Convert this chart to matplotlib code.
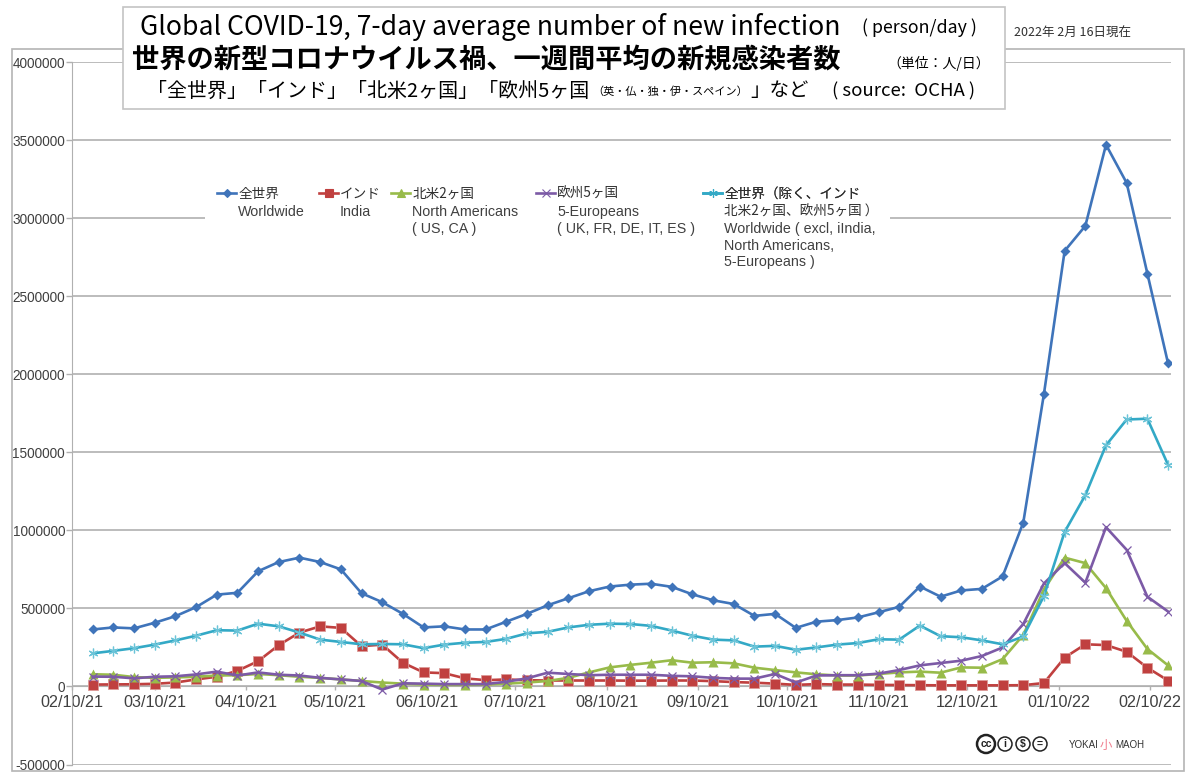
# plot.py
import datetime as dt

import matplotlib
matplotlib.use('Agg')
import matplotlib.dates as mdates
import matplotlib.pyplot as plt
from matplotlib.lines import Line2D
from matplotlib.patches import Circle, Rectangle

JP_FONT = ['Noto Sans CJK JP', 'DejaVu Sans']
LATIN_FONT = 'Liberation Sans'

# weekly values, 1000 person/day
start_date = dt.date(2021, 2, 17)
worldwide = [365, 378, 372, 408, 450, 508, 588, 600, 738, 797, 825, 797, 750,
             597, 540, 465, 378, 385, 365, 365, 415, 465, 520, 565, 610, 640,
             652, 658, 638, 590, 552, 528, 452, 465, 375, 415, 425, 442, 475,
             510, 640, 575, 615, 625, 705, 1050, 1875, 2790, 2950, 3470, 3225,
             2645, 2070]
india = [12, 13, 14, 17, 25, 45, 62, 100, 162, 265, 345, 385, 375,
         258, 268, 152, 90, 85, 52, 40, 45, 40, 38, 38, 38, 38,
         37, 37, 38, 38, 34, 28, 24, 18, 10, 15, 12, 12, 10,
         9, 8, 7, 7, 7, 7, 8, 22, 185, 270, 265, 222,
         120, 38]
north_america = [78, 75, 60, 55, 58, 62, 70, 72, 80, 72, 62, 55, 45,
                 35, 25, 18, 12, 10, 10, 12, 18, 25, 35, 55, 90, 122,
                 138, 152, 168, 152, 155, 148, 120, 105, 90, 78, 70, 70, 80,
                 90, 95, 88, 122, 120, 175, 330, 620, 825, 790, 630, 420,
                 240, 135]
europe = [63, 62, 52, 62, 65, 77, 95, 70, 90, 75, 70, 55, 45,
          35, -20, 20, 18, 15, 15, 15, 30, 52, 88, 80, 72, 75,
          75, 75, 68, 65, 55, 50, 50, 80, 25, 70, 72, 72, 82,
          105, 135, 150, 165, 195, 250, 400, 660, 790, 665, 1020, 875,
          575, 480]
rest_of_world = [212, 228, 245, 268, 295, 325, 360, 358, 402, 385, 345, 300, 285,
                 270, 272, 270, 245, 268, 280, 285, 305, 340, 350, 378, 395, 402,
                 400, 388, 358, 325, 300, 295, 255, 260, 235, 250, 268, 278, 302,
                 300, 390, 322, 315, 295, 270, 320, 580, 990, 1225, 1545, 1710,
                 1715, 1420]

y_ticks = [-500000, 0, 500000, 1000000, 1500000, 2000000, 2500000, 3000000,
           3500000, 4000000]
x_ticks = [dt.date(2021, m, 10) for m in range(2, 13)] + \
          [dt.date(2022, 1, 10), dt.date(2022, 2, 10)]

dates = [start_date + dt.timedelta(days=7 * i) for i in range(len(worldwide))]


def to_people(values):
    return [v * 1000 for v in values]


fig = plt.figure(figsize=(12, 7.8), dpi=100, facecolor='white')

# page layers in pixel coordinates, for the frame and the title box
back = fig.add_axes([0, 0, 1, 1], zorder=0)
back.set_xlim(0, 1200)
back.set_ylim(780, 0)
back.axis('off')
back.add_patch(Rectangle((12, 49), 1172, 722, fc='white', ec='#b4b4b4', lw=1.2))

ax = fig.add_axes([72 / 1200, 1 - 764.5 / 780, 1099 / 1200, 702.5 / 780], zorder=1)
ax.patch.set_alpha(0)

top = fig.add_axes([0, 0, 1, 1], zorder=2)
top.set_xlim(0, 1200)
top.set_ylim(780, 0)
top.axis('off')
top.patch.set_alpha(0)

# series
styles = [
    (worldwide, '#3f74ba', 'D', 5.0, 'none'),
    (india, '#c0403f', 's', 6.5, '#dc9a98'),
    (north_america, '#98bb4a', '^', 6.5, 'none'),
    (europe, '#7c5aa6', 'x', 6.0, '#7c5aa6'),
    (rest_of_world, '#33a9c6', (6, 2, 0), 7.0, '#6cc4d8'),
]
lines = []
for values, color, marker, size, edge in styles:
    if marker in ('x', (6, 2, 0)):
        line, = ax.plot(dates, to_people(values), color=color, lw=1.9, marker=marker,
                        ms=size, mew=0.9, mec=edge, zorder=3)
    else:
        line, = ax.plot(dates, to_people(values), color=color, lw=1.9, marker=marker,
                        ms=size, mfc=color, mec=edge, mew=0.6, zorder=3)
    lines.append(line)

# axes
ax.set_xlim(dt.date(2021, 2, 10), dt.date(2022, 2, 17))
ax.set_ylim(-500000, 4000000)
ax.set_yticks(y_ticks)
ax.set_yticklabels([str(v) for v in y_ticks])
ax.set_xticks(x_ticks)
ax.xaxis.set_major_formatter(mdates.DateFormatter('%m/%d/%y'))
ax.tick_params(axis='x', length=3, width=1, color='#b0b0b0', pad=3, labelsize=11.6,
               labelcolor='#404040', labelfontfamily=LATIN_FONT)
ax.tick_params(axis='y', length=4, width=1, color='#b0b0b0', pad=1, labelsize=9.8,
               labelcolor='#404040', labelfontfamily=LATIN_FONT)
ax.grid(axis='y', color='#b0b0b0', lw=1.2)
ax.set_axisbelow(True)
for side in ['top', 'right']:
    ax.spines[side].set_visible(False)
ax.spines['left'].set_color('#b0b0b0')
ax.spines['bottom'].set_color('#b0b0b0')
ax.spines['bottom'].set_position(('data', 0))

# white patch under the legend cuts the 3000000 gridline
ax.add_patch(Rectangle((205, 182), 685, 88, transform=back.transData, fc='white', ec='none',
                       zorder=1, clip_on=False))

# legend, one block per series
legend_names = ['全世界', 'インド', '北米2ヶ国', '欧州5ヶ国', '全世界（除く、インド']
legend_key_x = [217, 319, 391, 536, 703]
legend_extra = [
    ['Worldwide'],
    ['India'],
    ['North Americans', '( US, CA )'],
    ['5-Europeans', '( UK, FR, DE, IT, ES )'],
    ['北米2ヶ国、欧州5ヶ国 ）', 'Worldwide ( excl, iIndia,', 'North Americans,', '5-Europeans )'],
]
legend_extra_y = [212, 229, 246, 262]
for line, name, key_x, extra in zip(lines, legend_names, legend_key_x, legend_extra):
    text_x = key_x + 21
    handle = Line2D([], [], color=line.get_color(), lw=1.9, marker=line.get_marker(),
                    ms=line.get_markersize() * 0.85, mfc=line.get_color(), mec=line.get_color(),
                    mew=0.8)
    leg = top.legend([handle], [name], loc='center left', bbox_to_anchor=(key_x, 194),
                     bbox_transform=top.transData, frameon=False, borderpad=0, borderaxespad=0,
                     handlelength=1.4, handletextpad=0.15, numpoints=1,
                     prop={'family': JP_FONT, 'size': 9.8})
    leg.get_texts()[0].set_color('#303030')
    top.add_artist(leg)
    for row, txt in zip(legend_extra_y, extra):
        if txt.isascii():
            top.text(text_x, row, txt, family=LATIN_FONT, fontsize=10.3, color='#404040', va='center')
        else:
            top.text(text_x, row, txt, family=JP_FONT, fontsize=9.8, color='#303030', va='center')

# title box
top.add_patch(Rectangle((123, 7), 882, 102, fc='white', ec='#c4c4c4', lw=1.2))
title_parts = [
    (140, 27, 'Global COVID-19, 7-day average number of new infection', 19.1, 'normal'),
    (862, 28, '( person/day )', 12.8, 'normal'),
    (132, 59, '世界の新型コロナウイルス禍、一週間平均の新規感染者数', 19.6, 'bold'),
    (887, 63, '（単位：人/日）', 10.0, 'normal'),
    (147, 91, '「全世界」「インド」「北米2ヶ国」「欧州5ヶ国', 14.4, 'normal'),
    (592, 92, '（英・仏・独・伊・スペイン）', 8.0, 'normal'),
    (750, 91, '」など', 14.0, 'normal'),
    (832, 91, '( source:  OCHA )', 13.4, 'normal'),
]
for x, y, txt, size, weight in title_parts:
    top.text(x, y, txt, family=JP_FONT, fontsize=size, fontweight=weight, color='black', va='center')
top.text(1014, 33, '2022年 2月 16日現在', family=JP_FONT, fontsize=9.0, color='#303030', va='center')

# licence badges and signature
badge_marks = [(986, 9, 'cc', 1.8), (1005, 7, 'i', 1.1), (1023, 7, '$', 1.1), (1040, 7, '=', 1.1)]
for x, r, mark, edge in badge_marks:
    top.add_patch(Circle((x, 744), r, fc='white', ec='#222222', lw=edge))
    top.text(x, 744, mark, family=LATIN_FONT, fontsize=7.5, fontweight='bold',
             ha='center', va='center', color='#222222')
top.text(1069, 745, 'YOKAI', family=LATIN_FONT, fontsize=7.0, color='#333333', va='center')
top.text(1100, 745, '小', family=JP_FONT, fontsize=9, color='#f08090', va='center')
top.text(1115, 745, 'MAOH', family=LATIN_FONT, fontsize=7.0, color='#333333', va='center')

fig.savefig('out.png', dpi=100, facecolor='white')
